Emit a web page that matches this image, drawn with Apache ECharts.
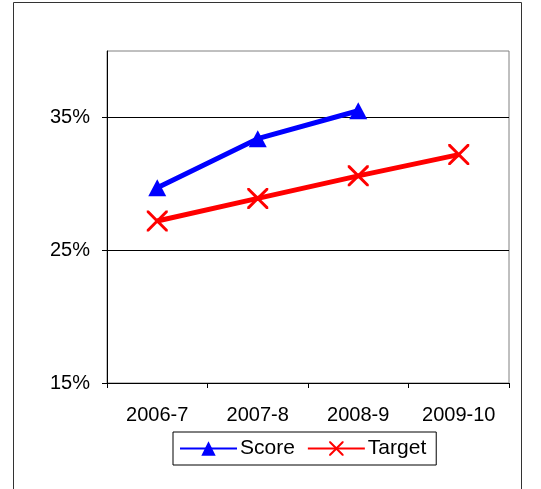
<!DOCTYPE html>
<html>
<head>
<meta charset="utf-8">
<style>
  html, body { margin: 0; padding: 0; background: #fff; }
  #chart { width: 541px; height: 489px; }
</style>
<script src="https://cdn.jsdelivr.net/npm/echarts@6/dist/echarts.min.js"></script>
</head>
<body>
<div id="chart"></div>
<script>
// Academic years on the horizontal axis
const years = ['2006-7', '2007-8', '2008-9', '2009-10'];
// Achieved score (%) – no figure yet for the last year
const scoreValues = [29.7, 33.4, 35.5, null];
// Target (%) for each year
const targetValues = [27.2, 28.9, 30.6, 32.2];
// Percent ticks shown on the value axis
const yTicks = [15, 25, 35];

const chart = echarts.init(document.getElementById('chart'), null, { renderer: 'canvas' });

const font = 'Liberation Sans, Arial, sans-serif';

chart.setOption({
  animation: false,
  backgroundColor: '#fff',
  graphic: [{
    type: 'rect',
    shape: { x: 13.5, y: 2.5, width: 508, height: 520 },
    style: { fill: 'none', stroke: '#333', lineWidth: 1 },
    silent: true
  }],
  grid: {
    left: 107, right: 32, top: 51, bottom: 106,
    show: true, borderColor: '#808080', borderWidth: 1, backgroundColor: 'transparent'
  },
  legend: {
    data: ['Score', 'Target'],
    left: 173, top: 432,
    itemWidth: 57, itemHeight: 18, itemGap: 12,
    padding: [6, 10, 6, 6],
    borderColor: '#000', borderWidth: 1,
    textStyle: { fontFamily: font, fontSize: 21, color: '#000', padding: [0, 0, 0, -2] }
  },
  xAxis: {
    type: 'category',
    data: years,
    boundaryGap: true,
    axisLine: { lineStyle: { color: '#000', width: 1 } },
    axisTick: { show: true, length: 5, lineStyle: { color: '#000' } },
    axisLabel: { fontFamily: font, fontSize: 20, color: '#000', margin: 22 },
    splitLine: { show: false }
  },
  yAxis: {
    type: 'value',
    min: 15, max: 40, interval: 10,
    axisLine: { show: true, lineStyle: { color: '#000', width: 1 } },
    axisTick: { show: true, length: 5, lineStyle: { color: '#000' }, customValues: yTicks },
    axisLabel: {
      fontFamily: font, fontSize: 20, color: '#000', margin: 17,
      customValues: yTicks,
      formatter: v => v + '%'
    },
    splitLine: { show: true, lineStyle: { color: ['#000', '#000', '#000', '#808080'], width: 1 } }
  },
  series: [
    {
      name: 'Score',
      type: 'line',
      data: scoreValues,
      symbol: 'triangle',
      symbolSize: [18, 17],
      showSymbol: true,
      lineStyle: { color: '#0000ff', width: 5 },
      itemStyle: { color: '#0000ff' },
      z: 3
    },
    {
      name: 'Target',
      type: 'line',
      data: targetValues,
      symbol: 'path://M0,0 L2,0 L10,8 L18,0 L20,0 L20,2 L12,10 L20,18 L20,20 L18,20 L10,12 L2,20 L0,20 L0,18 L8,10 L0,2 Z',
      symbolSize: 21,
      lineStyle: { color: '#ff0000', width: 5 },
      itemStyle: { color: '#ff0000' },
      z: 2
    }
  ]
});
</script>
</body>
</html>
